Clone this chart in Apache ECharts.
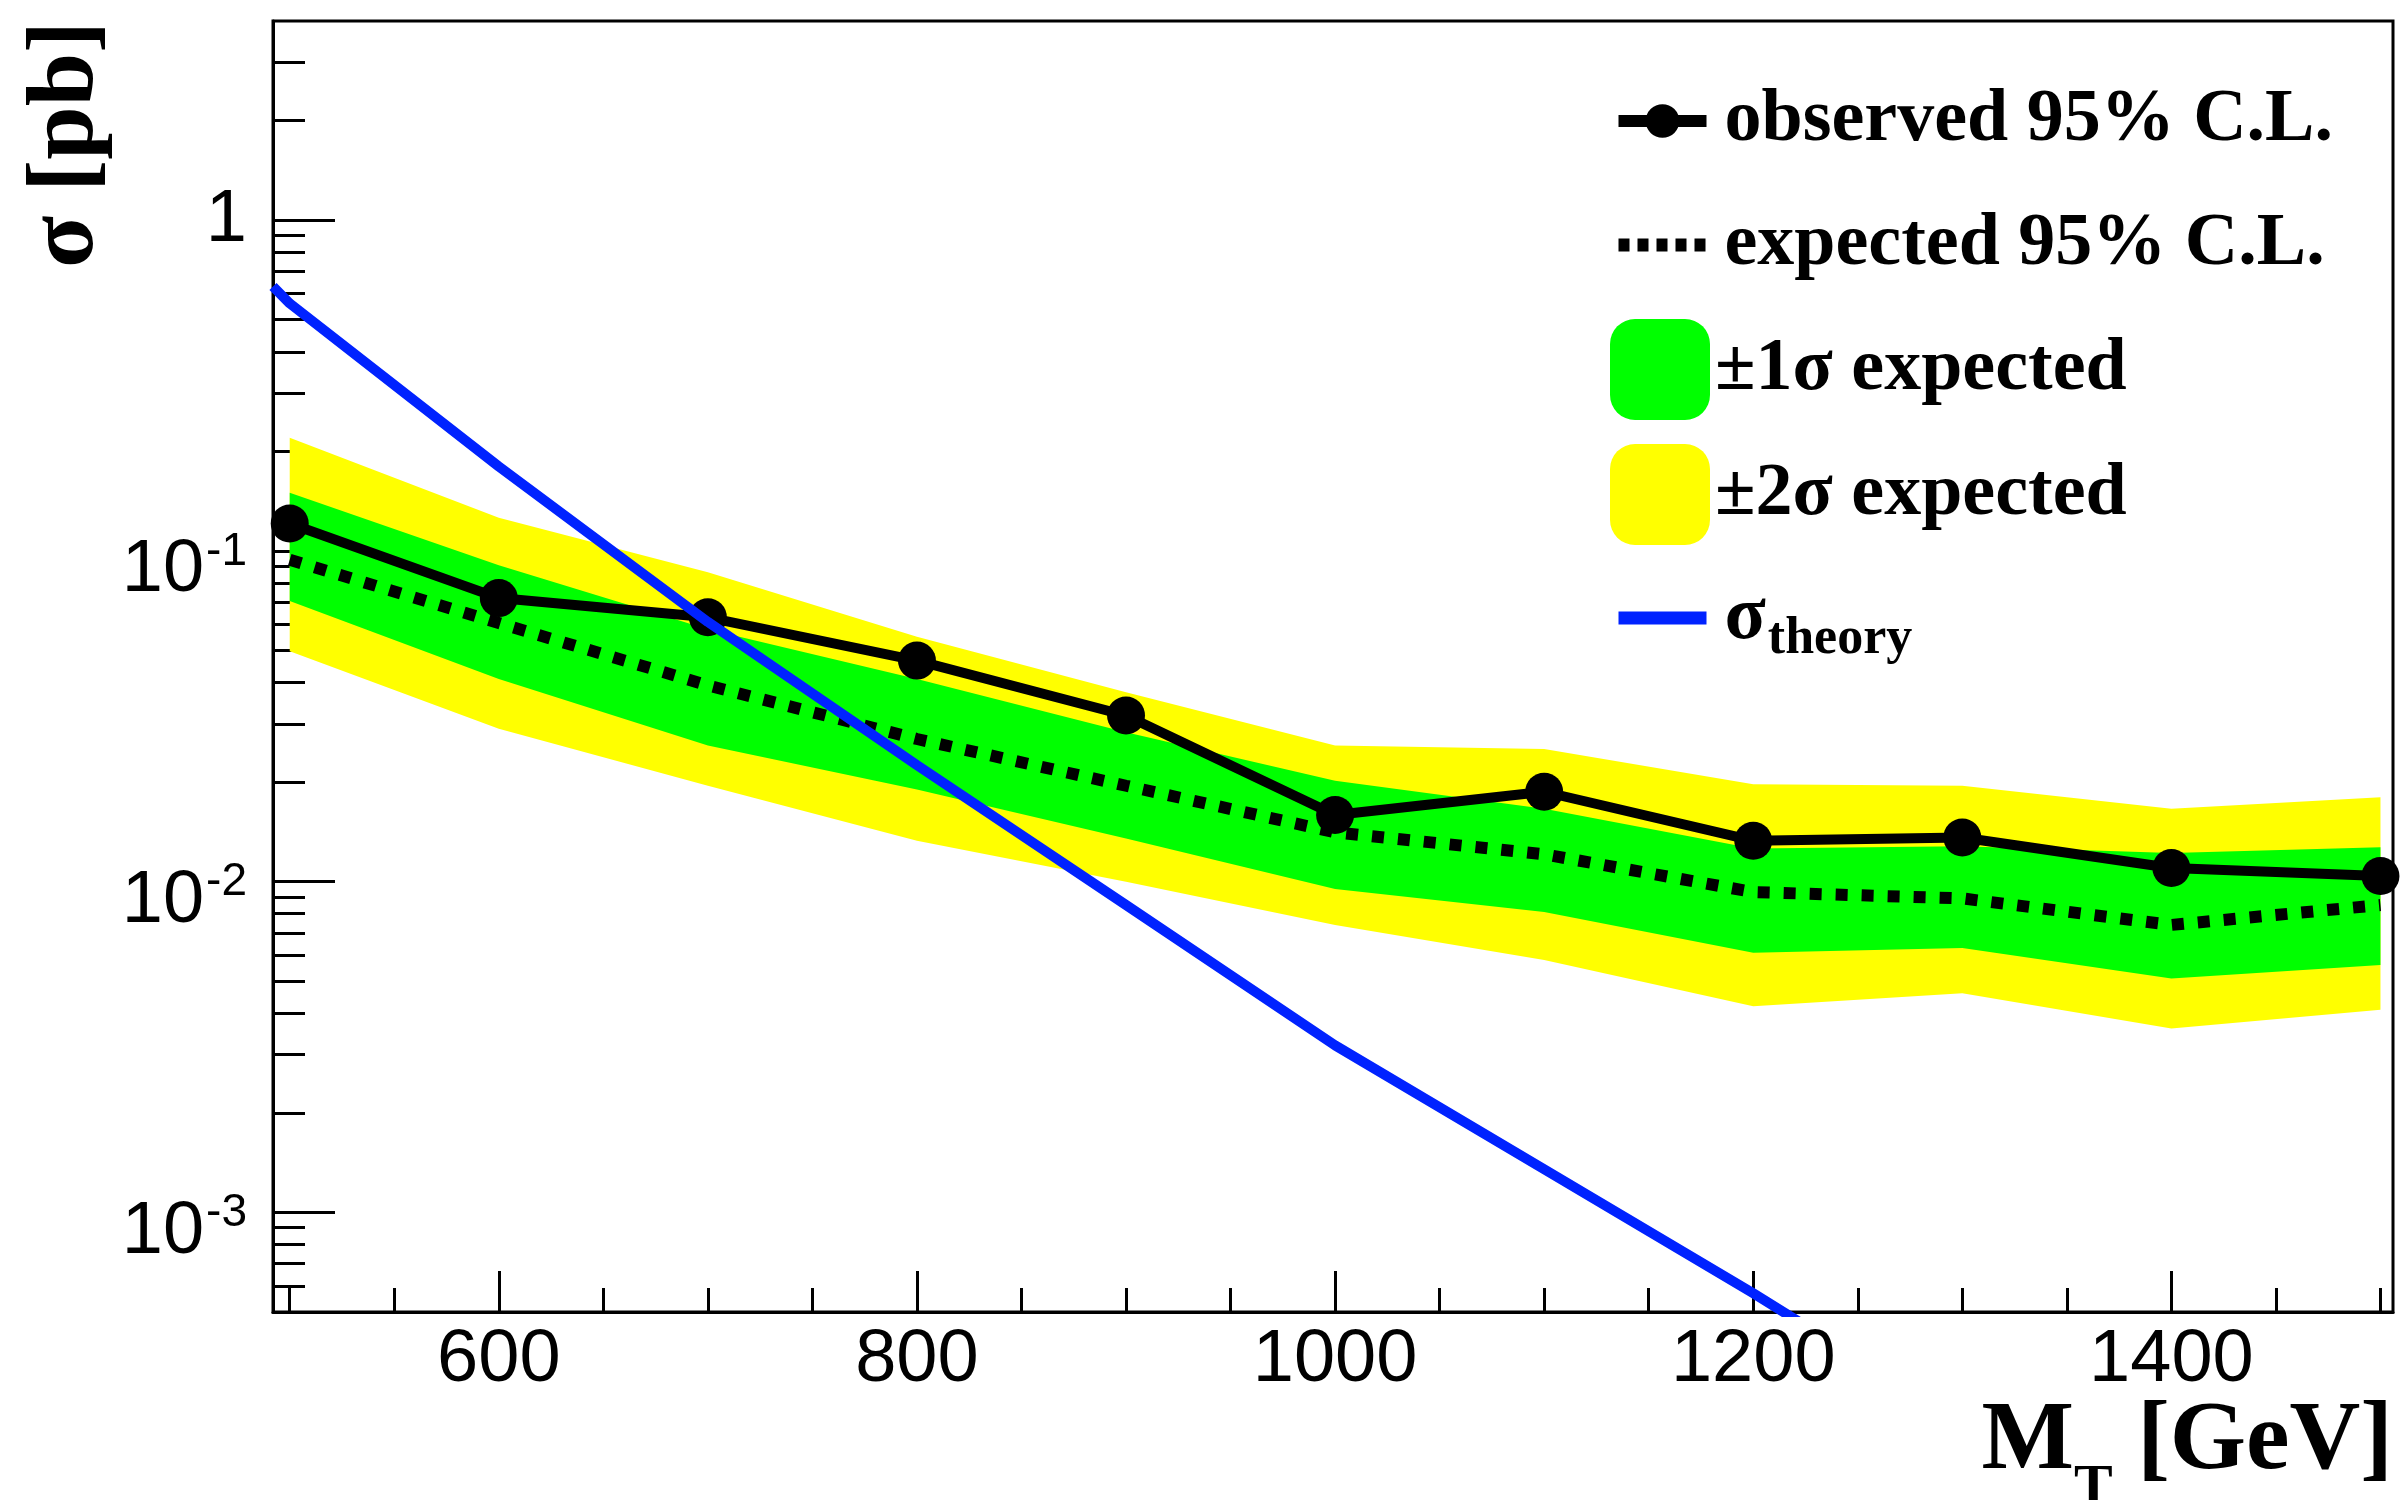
<!DOCTYPE html>
<html>
<head>
<meta charset="utf-8">
<script src="https://cdn.jsdelivr.net/npm/echarts@6/dist/echarts.min.js"></script>
<style>
html,body{margin:0;padding:0;background:#fff;}
#c{width:2401px;height:1500px;}
</style>
</head>
<body>
<div id="c"></div>
<script>
// ---- data ----
const mass = [500, 600, 700, 800, 900, 1000, 1100, 1200, 1300, 1400, 1500];
const observed = [0.121, 0.072, 0.063, 0.0466, 0.0318, 0.0159, 0.0187, 0.0133, 0.0136, 0.0110, 0.0104];
const expected = [0.094, 0.0605, 0.0392, 0.027, 0.0195, 0.0141, 0.0121, 0.0093, 0.0089, 0.0074, 0.0085];
const plus1 = [0.150, 0.0905, 0.058, 0.041, 0.0283, 0.0202, 0.0166, 0.0126, 0.0128, 0.0122, 0.0127];
const minus1 = [0.0705, 0.041, 0.0258, 0.019, 0.0135, 0.0095, 0.0081, 0.0061, 0.0063, 0.0051, 0.0056];
const plus2 = [0.220, 0.126, 0.0862, 0.055, 0.0374, 0.0258, 0.0252, 0.0197, 0.0195, 0.0166, 0.0180];
const minus2 = [0.0497, 0.029, 0.0195, 0.0133, 0.0100, 0.0074, 0.0058, 0.0042, 0.0046, 0.0036, 0.0041];
const theoryMass = [492, 500, 600, 700, 800, 900, 1000, 1100, 1200, 1300];
const theory = [0.63, 0.56, 0.18, 0.061, 0.0225, 0.0085, 0.0032, 0.00135, 0.00057, 0.00023];

const xMajorTicks = [600, 800, 1000, 1200, 1400];
const xMinorTicks = [500, 550, 600, 650, 700, 750, 800, 850, 900, 950, 1000, 1050, 1100, 1150, 1200, 1250, 1300, 1350, 1400, 1450, 1500];
const yMajorTicks = [0.001, 0.01, 0.1, 1];
const yMajorExp = ['-3', '-2', '-1', ''];
const yMinorTicks = [0.0006, 0.0007, 0.0008, 0.0009, 0.002, 0.003, 0.004, 0.005, 0.006, 0.007, 0.008, 0.009,
  0.02, 0.03, 0.04, 0.05, 0.06, 0.07, 0.08, 0.09, 0.2, 0.3, 0.4, 0.5, 0.6, 0.7, 0.8, 0.9, 2, 3];

const legendNames = ['observed 95% C.L.', 'expected 95% C.L.', '\u00b11\u03c3 expected', '\u00b12\u03c3 expected', '\u03c3theory'];

// ---- build ----
const pairs = (xs, ys) => xs.map((x, i) => [x, ys[i]]);
const SANS = 'Liberation Sans';
const SERIF = 'Liberation Serif';
const XMIN = 492, XMAX = 1506, YMIN = 0.0005, YMAX = 4;
const GREEN = '#00ff00', YELLOW = '#ffff00', BLUE = '#0022ff';

function bandSeries(name, lo, hi, color, z) {
  return {
    name: name, type: 'custom', z: z, silent: true, color: color,
    data: mass.map((m, i) => [m, lo[i], hi[i]]),
    encode: {x: 0, y: [1, 2]},
    renderItem: function (params, api) {
      if (params.dataIndex !== 0) return null;
      const pts = [];
      for (let i = 0; i < mass.length; i++) pts.push(api.coord([mass[i], hi[i]]));
      for (let i = mass.length - 1; i >= 0; i--) pts.push(api.coord([mass[i], lo[i]]));
      return {type: 'polygon', shape: {points: pts}, style: {fill: color, stroke: null}};
    }
  };
}

const chart = echarts.init(document.getElementById('c'), null, {renderer: 'canvas'});
const legendText = {fontFamily: SERIF, fontWeight: 'bold', fontSize: 74, color: '#000'};

const option = {
  animation: false,
  backgroundColor: '#fff',
  grid: {left: 273, top: 21, right: 8, bottom: 188, show: true, borderColor: '#000', borderWidth: 3,
         backgroundColor: 'transparent', containLabel: false, outerBoundsMode: 'none'},
  legend: [
    {data: [
        {name: legendNames[0], itemStyle: {color: '#000'}, lineStyle: {color: '#000', width: 12, type: 'solid'}},
        {name: legendNames[1], itemStyle: {color: 'rgba(0,0,0,0)', borderWidth: 0}, lineStyle: {color: '#000', width: 13, type: [11, 8]}}
      ],
     orient: 'vertical', left: 1612, top: 84, itemWidth: 88, itemHeight: 42, itemGap: 50, padding: 0,
     selectedMode: false,
     textStyle: Object.assign({padding: [0, 0, 0, 13]}, legendText)},
    {data: [
        {name: legendNames[2], icon: 'roundRect', itemStyle: {color: GREEN}},
        {name: legendNames[3], icon: 'roundRect', itemStyle: {color: YELLOW}}
      ],
     orient: 'vertical', left: 1610, top: 319, itemWidth: 100, itemHeight: 101, itemGap: 24, padding: 0,
     selectedMode: false,
     textStyle: Object.assign({}, legendText)},
    {data: [
        {name: legendNames[4], itemStyle: {color: 'rgba(0,0,0,0)', borderWidth: 0}, lineStyle: {color: BLUE, width: 13, type: 'solid'}}
      ],
     orient: 'vertical', left: 1612, top: 580, itemWidth: 88, itemHeight: 34, padding: 0,
     selectedMode: false,
     formatter: () => '{a|\u03c3}{b|theory}',
     textStyle: Object.assign({padding: [0, 0, 0, 13],
       rich: {
         a: {fontFamily: SERIF, fontWeight: 'bold', fontSize: 76, lineHeight: 76, verticalAlign: 'top'},
         b: {fontFamily: SERIF, fontWeight: 'bold', fontSize: 52, lineHeight: 52, verticalAlign: 'top', padding: [34, 0, 0, 2]}
       }}, legendText)}
  ],
  xAxis: [
    {type: 'value', min: XMIN, max: XMAX, position: 'bottom',
     name: '{m|M}{t|T}{m| [GeV]}', nameLocation: 'end', nameGap: 0, nameMoveOverlap: false,
     nameTextStyle: {align: 'right', verticalAlign: 'top', padding: [82, 0, 0, 0],
       rich: {
         m: {fontFamily: SERIF, fontWeight: 'bold', fontSize: 98, lineHeight: 98, color: '#000', verticalAlign: 'top'},
         t: {fontFamily: SERIF, fontWeight: 'bold', fontSize: 58, lineHeight: 58, color: '#000', verticalAlign: 'top', padding: [66, 0, 0, 0]}
       }},
     axisLine: {show: true, onZero: false, lineStyle: {color: '#000', width: 3}},
     axisTick: {show: true, inside: true, length: 41, lineStyle: {color: '#000', width: 3}, customValues: xMajorTicks},
     axisLabel: {show: true, customValues: xMajorTicks, margin: 12, fontFamily: SANS, fontSize: 74, color: '#000',
       formatter: (v) => String(v)},
     splitLine: {show: false}},
    {type: 'value', min: XMIN, max: XMAX, position: 'bottom',
     axisLine: {show: false, onZero: false},
     axisTick: {show: true, inside: true, length: 24, lineStyle: {color: '#000', width: 3}, customValues: xMinorTicks},
     axisLabel: {show: false},
     splitLine: {show: false}}
  ],
  yAxis: [
    {type: 'log', logBase: 10, min: YMIN, max: YMAX, position: 'left',
     name: '\u03c3 [pb]', nameLocation: 'end', nameGap: 0, nameRotate: 90, nameMoveOverlap: false,
     nameTextStyle: {align: 'right', verticalAlign: 'bottom', padding: [0, 0, 158, 0],
       fontFamily: SERIF, fontWeight: 'bold', fontSize: 96, lineHeight: 96, color: '#000'},
     axisLine: {show: true, onZero: false, lineStyle: {color: '#000', width: 3}},
     axisTick: {show: true, inside: true, length: 62, lineStyle: {color: '#000', width: 3}, customValues: yMajorTicks},
     axisLabel: {show: true, customValues: yMajorTicks, margin: 26, color: '#000',
       formatter: (v) => {
         let idx = 0, best = Infinity;
         yMajorTicks.forEach((t, i) => { const d = Math.abs(Math.log10(v) - Math.log10(t)); if (d < best) { best = d; idx = i; } });
         const e = yMajorExp[idx];
         return e === '' ? '{one|1}' : '{b|10}{s|' + e + '}';
       },
       rich: {
         b: {fontFamily: SANS, fontSize: 74, lineHeight: 74, verticalAlign: 'top', padding: [20, 0, 0, 0], color: '#000'},
         s: {fontFamily: SANS, fontSize: 46, lineHeight: 46, verticalAlign: 'top', padding: [15, 0, 0, 2], color: '#000'},
         one: {fontFamily: SANS, fontSize: 74, lineHeight: 74, padding: [0, 0, 0, 0], color: '#000'}
       }},
     splitLine: {show: false}},
    {type: 'log', logBase: 10, min: YMIN, max: YMAX, position: 'left',
     axisLine: {show: false, onZero: false},
     axisTick: {show: true, inside: true, length: 32, lineStyle: {color: '#000', width: 3}, customValues: yMinorTicks},
     axisLabel: {show: false},
     splitLine: {show: false}}
  ],
  series: [
    bandSeries(legendNames[3], minus2, plus2, YELLOW, 1),
    bandSeries(legendNames[2], minus1, plus1, GREEN, 2),
    {name: legendNames[1], type: 'line', data: pairs(mass, expected), symbol: 'none', color: '#000',
     lineStyle: {color: '#000', width: 12, type: [12, 14]}, z: 3},
    {name: legendNames[0], type: 'line', data: pairs(mass, observed), symbol: 'circle', symbolSize: 38, color: '#000',
     itemStyle: {color: '#000'}, lineStyle: {color: '#000', width: 10}, z: 4, clip: false},
    {name: legendNames[4], type: 'line', data: pairs(theoryMass, theory), symbol: 'none', color: BLUE,
     lineStyle: {color: BLUE, width: 10}, z: 5, clip: true}
  ]
};
chart.setOption(option);
</script>
</body>
</html>
